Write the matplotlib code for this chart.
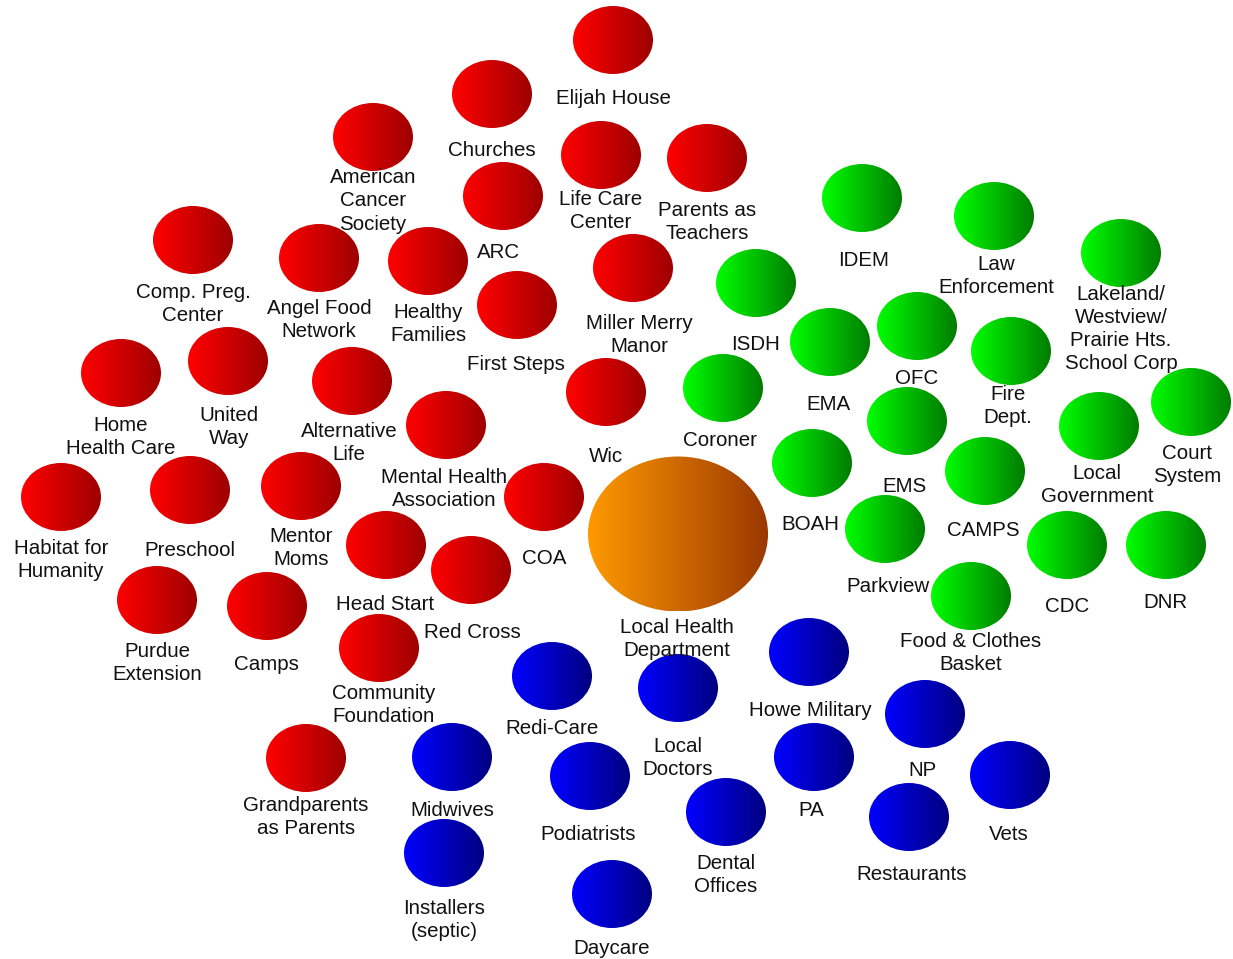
import matplotlib
matplotlib.use("Agg")
import matplotlib.pyplot as plt
from matplotlib.patches import Ellipse
import numpy as np

plt.rcParams['font.family'] = ['Liberation Sans', 'DejaVu Sans']

# node names, group and positions (pixel coords of the picture)
names = [
    "Elijah House", "Churches", "American\nCancer\nSociety", "Life Care\nCenter",
    "Parents as\nTeachers", "ARC", "Comp. Preg.\nCenter", "Angel Food\nNetwork",
    "Healthy\nFamilies", "Miller Merry\nManor", "First Steps", "Home\nHealth Care",
    "United\nWay", "Alternative\nLife", "Mental Health\nAssociation", "Wic",
    "Habitat for\nHumanity", "Preschool", "Mentor\nMoms", "COA", "Head Start",
    "Red Cross", "Purdue\nExtension", "Camps", "Community\nFoundation",
    "Grandparents\nas Parents",
    "IDEM", "Law\nEnforcement", "Lakeland/\nWestview/\nPrairie Hts.\nSchool Corp",
    "ISDH", "EMA", "OFC", "Fire\nDept.", "Coroner", "EMS", "Local\nGovernment",
    "Court\nSystem", "CAMPS", "BOAH", "Parkview", "CDC", "DNR",
    "Food & Clothes\nBasket",
    "Local Health\nDepartment",
    "Redi-Care", "Local\nDoctors", "Howe Military", "NP", "Midwives",
    "Podiatrists", "PA", "Vets", "Dental\nOffices", "Restaurants",
    "Installers\n(septic)", "Daycare",
]
groups = ["red"] * 26 + ["green"] * 17 + ["center"] + ["blue"] * 12

node_x = [613, 492, 373, 601, 707, 503, 193, 319, 428, 633, 517, 121, 228, 352,
          446, 606, 61, 190, 301, 544, 386, 471, 157, 267, 379, 306,
          862, 994, 1121, 756, 830, 917, 1011, 723, 907, 1099, 1191, 985, 812,
          885, 1067, 1166, 971,
          678,
          552, 678, 809, 925, 452, 590, 814, 1010, 726, 909, 444, 612]
node_y = [40, 94, 137, 155, 158, 196, 240, 258, 261, 268, 305, 373, 361, 381,
          425, 392, 497, 490, 486, 497, 545, 570, 600, 606, 648, 758,
          198, 216, 253, 283, 342, 326, 351, 388, 421, 426, 402, 471, 463,
          529, 545, 545, 596,
          534,
          676, 688, 652, 714, 757, 776, 757, 775, 812, 817, 853, 894]
label_x = [613, 492, 373, 601, 707, 499, 193, 319, 428, 639, 516, 121, 229, 349,
           444, 606, 61, 190, 301, 544, 385, 472, 157, 266, 384, 306,
           864, 996, 1121, 756, 828, 917, 1008, 720, 905, 1097, 1187, 983, 810,
           888, 1067, 1165, 971,
           677,
           552, 678, 810, 923, 452, 588, 811, 1009, 726, 912, 444, 612]
label_y = [98, 149, 200, 210, 221, 252, 303, 319, 323, 334, 364, 436, 426, 442,
           488, 455, 559, 549, 547, 557, 603, 631, 662, 663, 704, 816,
           260, 275, 328, 344, 403, 378, 405, 439, 485, 484, 464, 529, 524,
           586, 605, 601, 652,
           638,
           727, 757, 709, 770, 809, 833, 809, 833, 874, 873, 919, 947]

# gradient colours per group (left -> right)
colors = {
    "red": ("#ff0000", "#9e0000"),
    "green": ("#00ff00", "#007c00"),
    "blue": ("#0000ff", "#000080"),
    "center": ("#ff9a00", "#9a3800"),
}

fig = plt.figure(figsize=(12.33, 9.59), dpi=100)
ax = fig.add_axes([0, 0, 1, 1])
ax.set_xlim(0, 1233)
ax.set_ylim(959, 0)
ax.axis('off')


def hex_rgb(h):
    return np.array([int(h[i:i + 2], 16) / 255 for i in (1, 3, 5)])


for name, g, x, y, lx, ly in zip(names, groups, node_x, node_y, label_x, label_y):
    if g == "center":
        w, h = 180, 155
    else:
        w, h = 80, 68
    c1, c2 = hex_rgb(colors[g][0]), hex_rgb(colors[g][1])
    t = np.linspace(0, 1, 256)[None, :, None]
    grad = c1 * (1 - t) + c2 * t
    ell = Ellipse((x, y), w, h, facecolor='none', edgecolor='none')
    ax.add_patch(ell)
    im = ax.imshow(grad, extent=(x - w / 2, x + w / 2, y + h / 2, y - h / 2),
                   aspect='auto', interpolation='bilinear', zorder=2)
    im.set_clip_path(ell)
    ax.text(lx, ly + 1, name, ha='center', va='center', fontsize=14.8,
            linespacing=1.28, color='#111111', zorder=3)

ax.set_xlim(0, 1233)
ax.set_ylim(959, 0)
fig.savefig("out.png", dpi=100)
